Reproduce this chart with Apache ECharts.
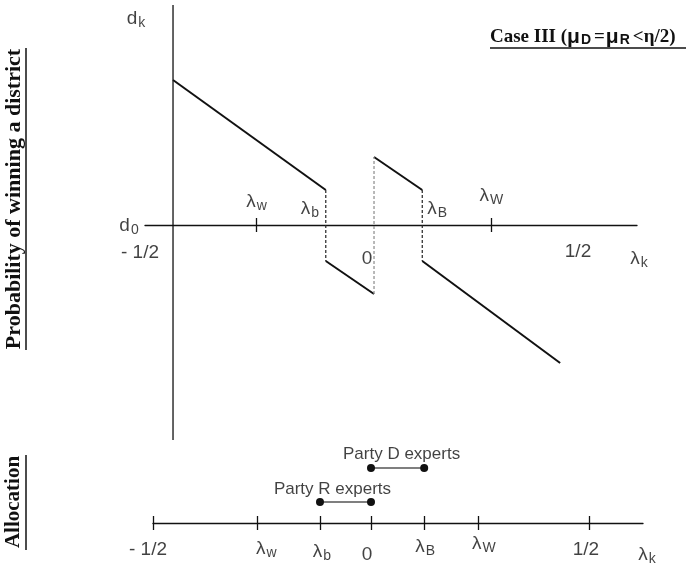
<!DOCTYPE html>
<html><head><meta charset="utf-8">
<script src="https://cdn.jsdelivr.net/npm/echarts@6/dist/echarts.min.js"></script>
<style>html,body{margin:0;padding:0;background:#fff}#c{width:686px;height:571px}</style>
</head><body><div id="c"></div>
<script>
// ---------------- data ----------------
// probability of winning a district: four linear pieces
const segX = [[-0.5, -0.12], [-0.12, 0], [0, 0.12], [0.12, 0.463]];
const segY = [[1.45, 0.35], [-0.36, -0.69], [0.68, 0.35], [-0.36, -1.38]];
const topTickX = [-0.292, 0.292];
const topLabels = ['- 1/2', 'λ_w', 'λ_b', '0', 'λ_B', 'λ_W', '1/2'];
const topLabelX = [-0.5, -0.292, -0.12, 0, 0.12, 0.292, 0.5];
const topXRange = [-0.5697, 0.6542];
const topYRange = [-2.15, 2.2];
// allocation strip
const allocLabels = ['- 1/2', 'λ_w', 'λ_b', '0', 'λ_B', 'λ_W', '1/2'];
const allocX = [-0.5, -0.261, -0.117, 0, 0.122, 0.245, 0.5];
const partyNames = ['Party R experts', 'Party D experts'];
const partyFrom = [-0.117, 0];
const partyTo = [0, 0.122];
const partyLevel = [0.21, 0.55];
const allocXRange = [-0.5, 0.6239];
const allocYRange = [-0.4, 0.83];

// ---------------- layout / styling ----------------
const INK = '#111';
const SANS = '"Liberation Sans", Arial, sans-serif';
const SERIF = '"Liberation Serif", "Times New Roman", serif';
const GRID0 = { left: 145, top: 5, width: 492, height: 435 };
const GRID1 = { left: 153, top: 440, width: 490, height: 123 };
// distance from the grid top to the y = 0 line (used to put the upward ticks on the axis)
const zero0 = GRID0.height * topYRange[1] / (topYRange[1] - topYRange[0]);
const zero1 = GRID1.height * allocYRange[1] / (allocYRange[1] - allocYRange[0]);

function rt(s) {
  const p = s.split('_');
  return p.length > 1 ? '{m|' + p[0] + '}{s|' + p[1] + '}' : '{n|' + s + '}';
}
const richLab = {
  m: { fontSize: 19, fontFamily: SANS, color: INK },
  s: { fontSize: 14, fontFamily: SANS, color: INK, padding: [9, 0, 0, 1] },
  n: { fontSize: 19, fontFamily: SANS, color: INK },
  p: { fontSize: 17, fontFamily: SANS, color: INK }
};
const topOffsets = [[-33, 28], [0, -23], [-16, -16], [-7, 34], [15, -16], [0, -29], [3, 27]];
const allocOffsets = [[-5, 27], [9, 26], [2, 29], [-4, 32], [1, 24], [6, 21], [-3, 27]];

function labelItem(x, y, text, off) {
  return { value: [x, y], label: { formatter: () => rt(text), offset: off } };
}
const topLabelData = topLabels.map((t, i) => labelItem(topLabelX[i], 0, t, topOffsets[i]));
topLabelData.push(labelItem(topXRange[1], 0, 'λ_k', [2, 34]));
topLabelData.push(labelItem(segX[0][0], 0, 'd_0', [-44, 1]));
topLabelData.push(labelItem(segX[0][0], topYRange[1], 'd_k', [-37, 14]));

const allocLabelData = allocLabels.map((t, i) => labelItem(allocX[i], 0, t, allocOffsets[i]));
allocLabelData.push(labelItem(allocXRange[1], 0, 'λ_k', [4, 32]));
const partyOffsets = [[-13, -13], [4, -14]];
partyNames.forEach((n, i) => {
  allocLabelData.push({ value: [(partyFrom[i] + partyTo[i]) / 2, partyLevel[i]],
    label: { formatter: () => '{p|' + n + '}', offset: partyOffsets[i] } });
});

const series = [];
// vertical axis of the top panel
series.push({ type: 'line', xAxisIndex: 0, yAxisIndex: 0, symbol: 'none', silent: true,
  data: [[segX[0][0], topYRange[0]], [segX[0][0], topYRange[1]]],
  lineStyle: { color: INK, width: 1.3 } });
// solid pieces
segX.forEach((xs, i) => {
  series.push({ type: 'line', xAxisIndex: 0, yAxisIndex: 0, symbol: 'none', silent: true,
    data: [[xs[0], segY[i][0]], [xs[1], segY[i][1]]],
    lineStyle: { color: INK, width: 2 } });
});
// dashed jumps
const dashColors = ['#222', '#8a8a8a', '#222'];
for (let i = 0; i < segX.length - 1; i++) {
  series.push({ type: 'line', xAxisIndex: 0, yAxisIndex: 0, symbol: 'none', silent: true,
    data: [[segX[i][1], segY[i][1]], [segX[i + 1][0], segY[i + 1][0]]],
    lineStyle: { color: dashColors[i], width: 1.2, type: [3, 2] } });
}
series.push({ type: 'scatter', xAxisIndex: 0, yAxisIndex: 0, symbolSize: 0, silent: true, z: 5,
  data: topLabelData, label: { show: true, position: 'inside', rich: richLab } });
// allocation
partyNames.forEach((n, i) => {
  series.push({ type: 'line', xAxisIndex: 2, yAxisIndex: 1, silent: true,
    symbol: 'circle', symbolSize: 8, showSymbol: true,
    data: [[partyFrom[i], partyLevel[i]], [partyTo[i], partyLevel[i]]],
    itemStyle: { color: INK }, lineStyle: { color: '#555', width: 1.5 } });
});
series.push({ type: 'scatter', xAxisIndex: 2, yAxisIndex: 1, symbolSize: 0, silent: true, z: 5,
  data: allocLabelData, label: { show: true, position: 'inside', rich: richLab } });

function xAx(grid, range, ticks) {
  return { type: 'value', gridIndex: grid, min: range[0], max: range[1], position: 'bottom',
    axisLine: { show: true, onZero: true, lineStyle: { color: INK, width: 1.3 } },
    axisTick: { show: true, customValues: ticks, length: 7, lineStyle: { color: INK, width: 1.3 } },
    axisLabel: { show: false }, splitLine: { show: false } };
}
// companion axis that only draws the upper half of each tick
function xAxUp(grid, range, ticks, zeroPx) {
  return { type: 'value', gridIndex: grid, min: range[0], max: range[1], position: 'top', offset: -zeroPx,
    axisLine: { show: false, onZero: false },
    axisTick: { show: true, customValues: ticks, length: 7, lineStyle: { color: INK, width: 1.3 } },
    axisLabel: { show: false }, splitLine: { show: false } };
}

const option = {
  animation: false,
  backgroundColor: '#fff',
  title: {
    left: 490, top: 27, padding: 0,
    text: '{t|Case III (}{m|μ}{s|D}{e|=}{m|μ}{s|R}{t|<η/2)}',
    textStyle: { rich: {
      t: { fontFamily: SERIF, fontWeight: 'bold', fontSize: 19, color: INK },
      m: { fontFamily: SANS, fontSize: 21, color: INK },
      s: { fontFamily: SANS, fontWeight: 'bold', fontSize: 14, color: INK, padding: [6, 3, 0, 1] },
      e: { fontFamily: SERIF, fontWeight: 'bold', fontSize: 19, color: INK, padding: [0, 1, 0, 0] }
    } }
  },
  grid: [GRID0, GRID1],
  xAxis: [
    xAx(0, topXRange, topTickX),
    xAxUp(0, topXRange, topTickX, zero0),
    xAx(1, allocXRange, allocX),
    xAxUp(1, allocXRange, allocX, zero1)
  ],
  yAxis: [
    { type: 'value', gridIndex: 0, min: topYRange[0], max: topYRange[1], show: false, splitLine: { show: false } },
    { type: 'value', gridIndex: 1, min: allocYRange[0], max: allocYRange[1], show: false, splitLine: { show: false } }
  ],
  graphic: [
    { type: 'text', x: 14, y: 199, rotation: Math.PI / 2,
      style: { text: 'Probability of winning a district', font: 'bold 22px ' + SERIF, fill: INK,
        textAlign: 'center', textVerticalAlign: 'middle', align: 'center', verticalAlign: 'middle' } },
    { type: 'line', shape: { x1: 26, y1: 48, x2: 26, y2: 350 }, style: { stroke: INK, lineWidth: 1.5 } },
    { type: 'text', x: 14, y: 502, rotation: Math.PI / 2,
      style: { text: 'Allocation', font: 'bold 21px ' + SERIF, fill: INK,
        textAlign: 'center', textVerticalAlign: 'middle', align: 'center', verticalAlign: 'middle' } },
    { type: 'line', shape: { x1: 26, y1: 455, x2: 26, y2: 550 }, style: { stroke: INK, lineWidth: 1.5 } },
    { type: 'line', shape: { x1: 490, y1: 48, x2: 686, y2: 48 }, style: { stroke: INK, lineWidth: 1.5 } }
  ],
  series: series
};
const chart = echarts.init(document.getElementById('c'), null, { renderer: 'canvas' });
chart.setOption(option);
</script>
</body></html>
